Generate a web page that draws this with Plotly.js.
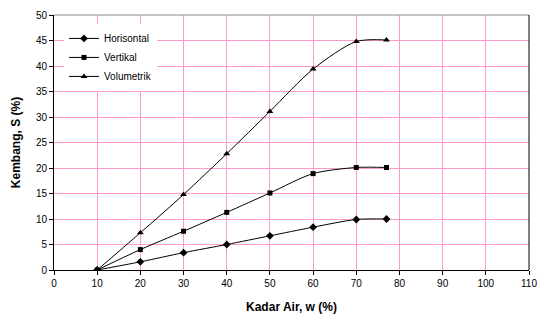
<!DOCTYPE html>
<html><head><meta charset="utf-8">
<script src="https://cdn.plot.ly/plotly-3.0.1.min.js"></script>
<style>body{margin:0;padding:0;background:#fff}#chart{width:544px;height:320px}</style>
</head><body><div id="chart"></div>
<script>
const kadarAir = [10, 20, 30, 40, 50, 60, 70, 77];
const horisontal = [0, 1.6, 3.4, 5.0, 6.7, 8.4, 9.9, 10.0];
const vertikal = [0, 4.0, 7.6, 11.3, 15.1, 18.9, 20.1, 20.1];
const volumetrik = [0, 7.3, 14.8, 22.8, 31.1, 39.4, 44.8, 45.1];
const seriesNames = ['Horisontal', 'Vertikal', 'Volumetrik'];
const xTicks = [0,10,20,30,40,50,60,70,80,90,100,110];
const yTicks = [0,5,10,15,20,25,30,35,40,45,50];

function tr(y, name, sym, size) {
  return {x: kadarAir, y: y, name: name, type: 'scatter', mode: 'lines+markers',
    line: {color: '#000', width: 1, shape: 'spline', smoothing: 0.8},
    marker: {symbol: sym, size: size, color: '#000'}};
}
const data = [
  tr(horisontal, seriesNames[0], 'diamond', 6),
  tr(vertikal, seriesNames[1], 'square', 5),
  tr(volumetrik, seriesNames[2], 'triangle-up', 6)
];
const layout = {
  width: 544, height: 320,
  margin: {l: 54, r: 15, t: 15, b: 50},
  paper_bgcolor: '#fff', plot_bgcolor: '#fff',
  font: {family: 'Liberation Sans, Arial, sans-serif', size: 10, color: '#000'},
  showlegend: true,
  legend: {x: 0.021, y: 0.965, xanchor: 'left', yanchor: 'top', bgcolor: '#fff',
    font: {size: 10}, itemwidth: 30, tracegroupgap: 0},
  xaxis: {range: [0, 110], tickvals: xTicks, ticktext: xTicks.map(String),
    showgrid: true, gridcolor: '#ff99cc', gridwidth: 1, zeroline: false,
    showline: true, linecolor: '#000', linewidth: 1, mirror: false,
    ticks: 'outside', ticklen: 4, tickcolor: '#000',
    title: {text: '<b>Kadar Air, w (%)</b>', font: {size: 12}, standoff: 14}},
  yaxis: {range: [0, 50], tickvals: yTicks, ticktext: yTicks.map(String),
    showgrid: true, gridcolor: '#ff99cc', gridwidth: 1, zeroline: false,
    showline: true, linecolor: '#000', linewidth: 1,
    ticks: 'outside', ticklen: 4, tickcolor: '#000',
    title: {text: '<b>Kembang, S (%)</b>', font: {size: 12}, standoff: 12}},
  shapes: [
    {type: 'line', xref: 'paper', yref: 'paper', x0: 0, x1: 1, y0: 1, y1: 1, line: {color: '#888', width: 1}},
    {type: 'line', xref: 'paper', yref: 'paper', x0: 1, x1: 1, y0: 0, y1: 1, line: {color: '#000', width: 1}}
  ]
};
Plotly.newPlot('chart', data, layout, {displayModeBar: false, staticPlot: true});
</script></body></html>
